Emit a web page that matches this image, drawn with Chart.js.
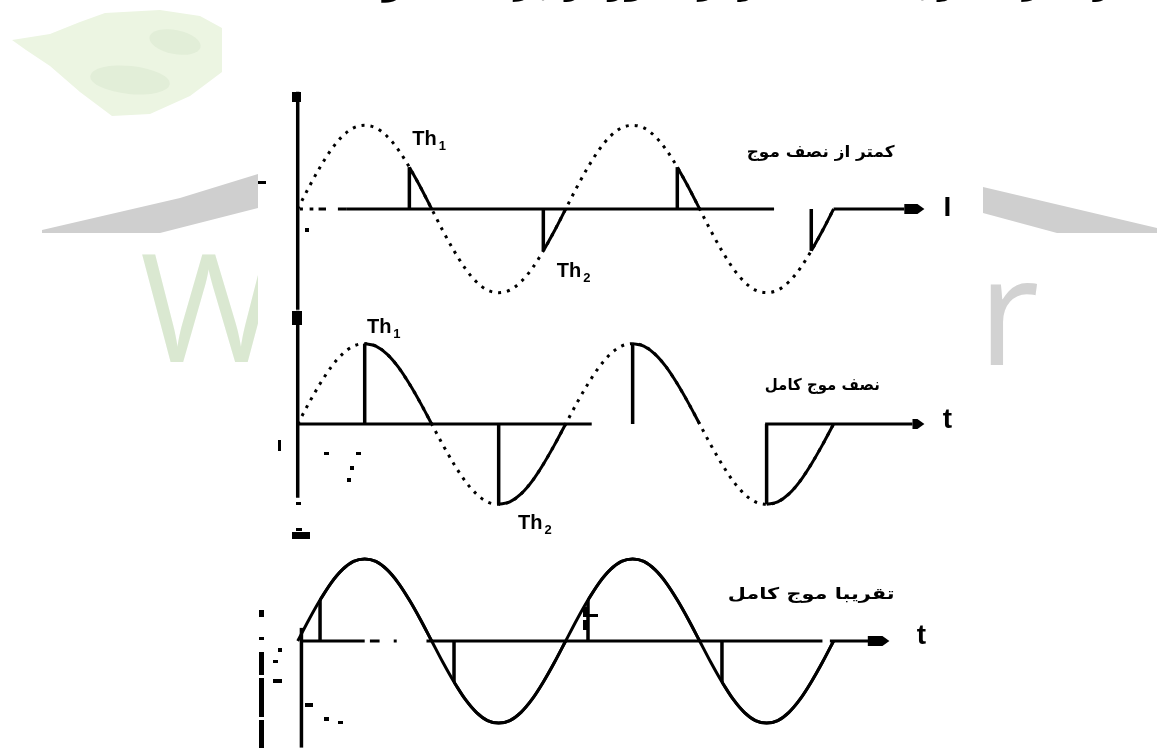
<!DOCTYPE html>
<html>
<head>
<meta charset="utf-8">
<script src="https://cdn.jsdelivr.net/npm/chart.js@4.4.1/dist/chart.umd.min.js"></script>
<style>
  html, body { margin: 0; padding: 0; background: #fff; overflow: hidden; }
</style>
</head>
<body>
<canvas id="chart" width="1157" height="748"></canvas>
<script>
// data (angle in degrees, voltage as fraction of peak)
const angles = [
  0, 15, 30, 45, 60, 75, 90, 105, 120, 135, 150, 165, 180,
  195, 210, 225, 240, 255, 270, 285, 300, 315, 330, 345, 360,
  375, 390, 405, 420, 435, 450, 465, 480, 495, 510, 525, 540,
  555, 570, 585, 600, 615, 630, 645, 660, 675, 690, 705, 720
];
const wave = [
  0, 0.26, 0.5, 0.71, 0.87, 0.97, 1, 0.97, 0.87, 0.71, 0.5, 0.26, 0,
  -0.26, -0.5, -0.71, -0.87, -0.97, -1, -0.97, -0.87, -0.71, -0.5, -0.26, 0,
  0.26, 0.5, 0.71, 0.87, 0.97, 1, 0.97, 0.87, 0.71, 0.5, 0.26, 0,
  -0.26, -0.5, -0.71, -0.87, -0.97, -1, -0.97, -0.87, -0.71, -0.5, -0.26, 0
];
const amplitudes = [1.02, 0.98, 1.0];
const firingTop = [150, 330, 510, 690];
const firingMid = [90, 270, 450, 630];
const firingLow = [30, 210, 390, 570];
const zeroCross = [180, 360, 540, 720];
const panelTitles = ["کمتر از نصف موج", "نصف موج کامل", "تقریبا موج کامل"];
const axisNames = ["I", "t", "t"];

// layout
const unitPx = 82;
const panelAxisPx = [209, 424, 641];
const baseY = panelAxisPx.map(p => -p / unitPx);
const firings = [firingTop, firingMid, firingLow];
const dottedPanel = [true, true, false];

let datasets = [];
firings.forEach((fire, i) => {
  let pts = angles.map((a, k) => ({ x: a, y: baseY[i] + amplitudes[i] * wave[k] }));
  datasets.push({
    data: pts,
    borderColor: "#000",
    borderWidth: 3,
    borderDash: dottedPanel[i] ? [3, 6] : [],
    cubicInterpolationMode: "monotone"
  });
  fire.forEach((f, j) => {
    let seg = pts.filter(p => p.x >= f && p.x <= zeroCross[j]);
    datasets.push({
      data: seg,
      borderColor: "#000",
      borderWidth: 3,
      cubicInterpolationMode: "monotone"
    });
    let k = angles.indexOf(f);
    datasets.push({
      data: [{ x: f, y: baseY[i] }, { x: f, y: pts[k].y }],
      borderColor: "#000",
      borderWidth: 3.5,
      tension: 0
    });
  });
});

// axis pieces per panel, in degrees / amplitude units
const axisLayout = [
  { solid: [[66, 640], [720, 815]], dash: [[3, 7], [16, 21], [28, 38], [54, 66]], arrow: [815, 842], vx: 0, vTop: 1.43, vBot: -1.23, nameX: 873, nameY: -0.09 },
  { solid: [[0, 395], [628, 826]], dash: [], arrow: [826, 842], vx: 0, vTop: 1.38, vBot: -0.9, nameX: 873, nameY: -0.05 },
  { solid: [[5, 90], [173, 705], [715, 768]], dash: [[97, 110], [129, 133]], arrow: [766, 795], vx: 5, vTop: 0.16, vBot: -1.3, nameX: 838, nameY: -0.04 }
];
// right edge (deg), centre (amplitude units), width (px)
const titlePos = [[802, 0.68, 148], [782, 0.47, 115], [802, 0.56, 167]];

const thLabels = [
  { p: 0, x: 154, y: 0.78, n: "1" }, { p: 0, x: 348, y: -0.83, n: "2" },
  { p: 1, x: 93, y: 1.11, n: "1" }, { p: 1, x: 296, y: -1.28, n: "2" }
];

// background watermark + scan frame
const watermark = {
  id: "watermark",
  beforeDatasetsDraw(chart) {
    const ctx = chart.ctx;
    ctx.save();
    // leaf
    ctx.fillStyle = "rgb(236,245,226)";
    ctx.beginPath();
    ctx.moveTo(12, 40); ctx.lineTo(50, 34); ctx.lineTo(80, 22); ctx.lineTo(105, 13);
    ctx.lineTo(160, 10); ctx.lineTo(200, 16); ctx.lineTo(222, 28); ctx.lineTo(222, 72);
    ctx.lineTo(190, 96); ctx.lineTo(150, 114); ctx.lineTo(112, 116); ctx.lineTo(80, 92);
    ctx.lineTo(50, 66); ctx.lineTo(26, 50); ctx.closePath(); ctx.fill();
    ctx.fillStyle = "rgb(226,238,216)";
    ctx.beginPath(); ctx.ellipse(175, 42, 26, 12, 0.2, 0, Math.PI * 2); ctx.fill();
    ctx.beginPath(); ctx.ellipse(130, 80, 40, 14, 0.1, 0, Math.PI * 2); ctx.fill();
    // gray swoosh
    ctx.fillStyle = "#cfcfcf";
    ctx.beginPath();
    ctx.moveTo(258, 174); ctx.lineTo(180, 198); ctx.lineTo(42, 230); ctx.lineTo(42, 233);
    ctx.lineTo(160, 233); ctx.lineTo(258, 208); ctx.closePath(); ctx.fill();
    ctx.beginPath();
    ctx.moveTo(983, 187); ctx.lineTo(1157, 228); ctx.lineTo(1157, 233);
    ctx.lineTo(1057, 233); ctx.lineTo(983, 213); ctx.closePath(); ctx.fill();
    // big letters
    ctx.font = '150px "Open Sans"';
    ctx.textBaseline = "alphabetic";
    ctx.fillStyle = "rgb(218,232,209)";
    ctx.fillText("W", 140, 362);
    ctx.fillStyle = "#d2d2d2";
    ctx.fillText("r", 978, 365);
    // top text, cut off by the page edge
    ctx.fillStyle = "#000";
    ctx.font = 'bold 30px "DejaVu Sans"';
    ctx.direction = "rtl";
    ctx.textAlign = "right";
    ctx.fillText("مدار کنترل فاز با استفاده از تریستور در جریان متناوب", 1157, -5);
    // white scan frame
    ctx.direction = "ltr";
    ctx.fillStyle = "#fff";
    ctx.fillRect(258, 20, 725, 728);
    ctx.restore();
  },
  afterDatasetsDraw(chart) {
    const ctx = chart.ctx;
    const xs = chart.scales.x, ys = chart.scales.y;
    const X = v => xs.getPixelForValue(v);
    const Y = v => ys.getPixelForValue(v);
    ctx.save();
    ctx.strokeStyle = "#000";
    ctx.fillStyle = "#000";
    axisLayout.forEach((a, i) => {
      const b = baseY[i];
      ctx.lineWidth = 3;
      a.solid.concat(a.dash).forEach(s => {
        ctx.beginPath(); ctx.moveTo(X(s[0]), Y(b)); ctx.lineTo(X(s[1]), Y(b)); ctx.stroke();
      });
      // arrow head
      const x1 = X(a.arrow[0]), x2 = X(a.arrow[1]), y = Y(b);
      ctx.beginPath();
      ctx.moveTo(x1, y - 5); ctx.lineTo(x2 - 7, y - 5); ctx.lineTo(x2, y);
      ctx.lineTo(x2 - 7, y + 5); ctx.lineTo(x1, y + 5); ctx.closePath(); ctx.fill();
      // vertical axis
      ctx.lineWidth = 3.5;
      ctx.beginPath(); ctx.moveTo(X(a.vx), Y(b + a.vTop)); ctx.lineTo(X(a.vx), Y(b + a.vBot)); ctx.stroke();
      // axis name
      ctx.font = 'bold 28px "Liberation Sans"';
      ctx.textAlign = "center";
      ctx.textBaseline = "alphabetic";
      ctx.fillText(axisNames[i], X(a.nameX), Y(b + a.nameY));
      // panel title, stretched to the width seen in the scan
      const tp = titlePos[i];
      ctx.font = 'bold 16px "DejaVu Sans"';
      ctx.direction = "rtl";
      ctx.textAlign = "right";
      ctx.textBaseline = "middle";
      const w = ctx.measureText(panelTitles[i]).width;
      ctx.save();
      ctx.translate(X(tp[0]), Y(b + tp[1]));
      ctx.scale(tp[2] / w, 1);
      ctx.fillText(panelTitles[i], 0, 0);
      ctx.restore();
      ctx.direction = "ltr";
    });
    // axis top marks
    ctx.fillRect(292, 92, 9, 10);
    ctx.fillRect(292, 311, 10, 14);
    ctx.fillRect(292, 532, 18, 7);
    // scan specks
    [[305, 228, 4, 4], [258, 181, 8, 3], [278, 440, 3, 11], [324, 452, 5, 3], [356, 452, 5, 3],
     [350, 466, 4, 4], [347, 478, 4, 4], [296, 502, 5, 3], [296, 528, 6, 3],
     [259, 610, 5, 7], [259, 637, 5, 3], [259, 652, 5, 23], [259, 678, 5, 39], [259, 720, 5, 28],
     [273, 660, 5, 3], [278, 648, 4, 4], [273, 679, 9, 4], [305, 703, 8, 4], [324, 717, 5, 4], [338, 721, 5, 3],
     [583, 607, 4, 10], [583, 620, 4, 10], [588, 614, 10, 3]].forEach(r => ctx.fillRect(r[0], r[1], r[2], r[3]));
    // thyristor labels
    ctx.textAlign = "left";
    ctx.textBaseline = "alphabetic";
    thLabels.forEach(t => {
      const x = X(t.x), y = Y(baseY[t.p] + t.y);
      ctx.font = 'bold 20px "Liberation Sans"';
      ctx.fillText("Th", x, y);
      const w = ctx.measureText("Th").width;
      ctx.font = 'bold 13px "Liberation Sans"';
      ctx.fillText(t.n, x + w + 2, y + 5);
    });
    ctx.restore();
  }
};

new Chart(document.getElementById("chart"), {
  type: "line",
  data: { datasets },
  options: {
    responsive: false,
    animation: false,
    devicePixelRatio: 1,
    layout: { padding: 0 },
    elements: { point: { radius: 0 } },
    scales: {
      x: { type: "linear", display: false, min: -400, max: 1154.5 },
      y: { type: "linear", display: false, min: -748 / unitPx, max: 0 }
    },
    plugins: { legend: { display: false }, tooltip: { enabled: false } }
  },
  plugins: [watermark]
});
</script>
</body>
</html>
